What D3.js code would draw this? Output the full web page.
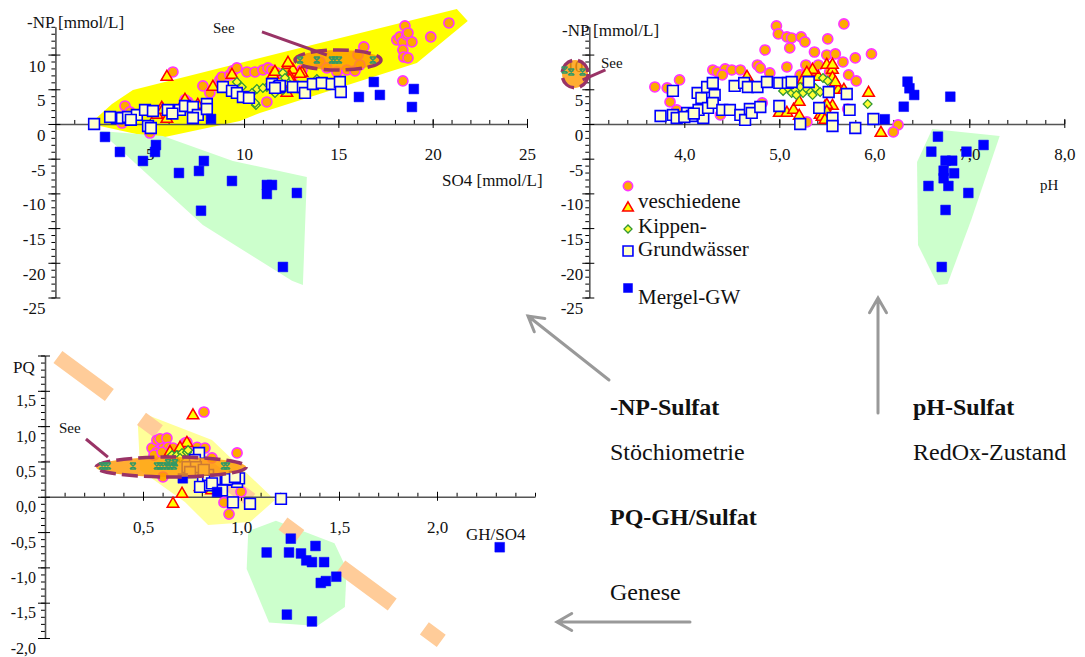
<!DOCTYPE html>
<html>
<head>
<meta charset="utf-8">
<script src="https://cdn.jsdelivr.net/npm/d3@7"></script>
<style>
  body { margin: 0; background: #fff; }
  svg { font-family: "Liberation Serif", "Times New Roman", serif; }
</style>
</head>
<body>
<script>
// ---------- chart 1: SO4 [mmol/L] vs -NP [mmol/L] ----------
let so4Circ = [[6.23,7.49],[3.69,2.59],[3.53,0.14],[5.01,-1.30],[7.02,3.17],[7.82,5.48],[8.19,4.47],[8.72,6.34],[8.83,6.77],[9.25,7.06],[9.41,7.64],[9.62,8.07],[10.15,7.49],[10.58,7.49],[11.0,7.78],[11.27,8.07],[11.48,7.78],[11.74,7.35],[12.27,7.49],[12.59,7.06],[13.07,7.78],[14.02,8.93],[11.21,3.17],[14.39,8.07],[14.92,7.49],[15.45,7.78],[15.88,7.64],[16.04,9.94],[16.35,11.10],[16.14,8.50],[18.1,12.10],[18.26,12.54],[18.42,11.82],[18.63,12.82],[18.9,11.82],[18.53,14.12],[18.69,13.11],[18.42,10.66],[18.47,9.65],[18.69,9.51],[19.90,12.54],[20.86,14.55],[18.42,6.20],[3.42,1.0],[3.95,1.73],[5.80,1.30],[6.87,3.46]]
let so4Tri = [[5.91,6.77],[8.35,5.33],[9.36,7.06],[5.64,2.31],[5.91,0.72],[6.87,3.46],[7.55,2.74],[5.38,1.30],[5.70,2.02],[6.76,2.31],[11.53,7.06],[12.33,8.50],[12.59,7.78],[13.07,7.35],[12.43,6.77],[12.27,4.47],[12.33,8.79],[11.64,7.49],[12.96,7.2],[12.43,6.34]]
let so4Dia = [[9.62,6.05],[9.88,5.33],[9.41,4.90],[10.68,5.04],[10.63,2.74],[11.21,5.33],[11.64,4.47],[10.42,4.47],[10.58,3.03],[12.06,4.90],[12.33,5.91],[13.86,6.48],[12.06,7.35],[11.0,5.19],[12.17,6.63]]
let so4Sq = [[2.05,0],[3.26,0.86],[3.53,0.86],[3.85,1.0],[4.32,1.30],[4.75,2.02],[5.17,1.87],[4.91,-0.29],[5.06,-0.58],[5.96,2.02],[6.60,2.02],[6.87,2.59],[7.29,2.45],[7.55,1.30],[7.29,0.86],[8.03,2.88],[8.03,2.16],[8.88,5.33],[9.36,4.76],[9.62,4.47],[9.94,3.89],[10.26,3.75],[11.48,5.76],[11.85,5.33],[11.9,5.48],[12.59,5.33],[13.12,5.33],[13.23,4.47],[13.65,5.76],[14.12,5.91],[14.65,5.76],[15.08,6.05],[15.13,4.61],[4.0,0.6],[2.9,1.0],[6.2,1.5],[11.64,5.19]]
let so4Mergel = [[2.63,-1.87],[3.42,-4.03],[4.64,-5.33],[5.33,-3.03],[5.28,-4.03],[6.55,-7.06],[7.61,-6.77],[7.87,-5.33],[7.72,-12.5],[9.36,-8.21],[11.21,-8.79],[11.48,-8.79],[11.21,-10.09],[12.80,-9.94],[12.06,-20.6],[8.25,0.72],[16.88,6.05],[16.09,3.89],[17.20,4.18],[19.0,5.04],[18.9,2.45]]
let so4See = [[12.97,9.2],[13.86,9.2],[14.66,9.2],[14.82,9.2],[15.03,9.2],[16.83,9.2]]
let so4YellowArea = [[1.94,0.29],[3.00,2.88],[4.11,4.90],[11.90,10.23],[21.28,16.57],[21.86,14.84],[19.16,8.79],[10.84,1.59],[9.78,0.43],[5.80,-1.87],[5.01,-1.87],[2.36,-0.29]]
let so4GreenArea = [[2.36,-1.01],[5.70,-1.73],[9.41,-5.33],[13.33,-7.64],[13.12,-23.2],[12.54,-22.6],[7.82,-14.55]]
let so4SeeEllipse = [14.98, 9.22, 2.28, 1.44]   // cx, cy, rx, ry (data units)
let so4SeeLeader = [[10.95,13.26],[14.39,9.94]]
let so4XTicks = [5,10,15,20,25]
let npYTicks = [10,5,0,-5,-10,-15,-20,-25]

// ---------- chart 2: pH vs -NP ----------
let phCirc = [[3.69,5.33],[3.82,5.19],[3.85,3.17],[3.95,6.34],[3.92,2.02],[4.30,7.78],[4.35,7.49],[4.43,7.93],[4.50,7.78],[4.59,7.78],[4.40,7.06],[4.77,8.50],[4.80,8.07],[4.82,3.03],[4.38,1.30],[4.90,7.35],[4.97,14.12],[4.99,12.97],[4.85,10.66],[5.08,12.54],[5.13,12.39],[5.11,10.95],[5.23,12.54],[5.27,11.82],[5.08,8.21],[5.22,7.06],[5.29,7.49],[5.37,10.37],[5.28,8.50],[5.41,8.50],[5.51,12.25],[5.50,9.94],[5.59,10.09],[5.68,14.41],[5.80,9.51],[5.97,10.09],[5.73,7.06],[5.81,6.20],[5.72,2.16],[5.29,0.29],[6.25,-0.14],[6.20,-1.15],[5.53,7.49],[5.67,8.93]]
let phTri = [[4.66,6.77],[5.0,1.59],[5.08,1.59],[5.15,2.02],[5.21,1.15],[5.21,3.17],[5.25,6.34],[5.35,7.49],[5.41,6.77],[5.50,8.50],[5.56,7.78],[5.56,6.63],[5.62,4.90],[5.48,2.45],[5.56,2.59],[5.43,1.30],[5.50,1.59],[5.68,4.90],[5.50,2.74],[5.50,1.73],[5.45,1.0],[5.48,0.58],[5.94,4.47],[5.35,7.78],[5.29,7.35],[6.07,-1.30],[5.59,6.0],[5.56,8.5]]
let phDia = [[5.04,4.76],[5.09,5.19],[5.13,4.47],[5.17,4.90],[5.22,5.33],[5.25,4.47],[5.29,5.04],[5.33,4.61],[5.38,5.19],[5.43,4.61],[5.46,6.63],[5.51,6.20],[5.93,2.88],[5.18,4.18],[5.35,4.18]]
let phSq = [[3.75,1.15],[3.88,4.76],[3.88,1.30],[3.92,0.86],[4.03,1.59],[4.08,1.15],[4.14,4.47],[4.18,3.75],[4.20,0.86],[4.15,2.02],[4.24,5.33],[4.30,5.91],[4.32,4.18],[4.25,2.31],[4.30,3.03],[4.40,2.02],[4.48,2.02],[4.53,5.48],[4.63,5.91],[4.59,1.30],[4.64,0.58],[4.69,2.16],[4.71,1.59],[4.67,5.33],[4.77,5.33],[4.80,2.45],[4.87,6.05],[5.0,5.91],[5.0,2.59],[5.09,5.91],[5.13,6.05],[5.22,0],[5.31,6.05],[5.42,2.31],[5.52,4.61],[5.56,0.86],[5.56,-0.29],[5.71,4.32],[5.74,2.02],[5.80,-0.58],[5.99,0.72],[4.0,1.0],[4.1,1.5]]
let phMergel = [[6.35,6.1],[6.37,5.14],[6.42,4.18],[6.31,2.49],[6.80,3.93],[6.11,0.68],[6.67,-1.83],[6.60,-3.99],[6.97,-3.99],[7.15,-3.03],[6.75,-5.29],[6.82,-5.29],[6.73,-6.73],[6.84,-7.10],[6.73,-7.82],[6.57,-8.93],[6.78,-8.93],[6.99,-9.94],[6.75,-12.39],[6.71,-20.6]]
let phSee = [[2.74,7.78],[2.81,7.49],[2.93,7.49]]
let phGreenArea = [[6.61,-0.72],[7.32,-1.73],[7.02,-13.83],[6.77,-23.05],[6.67,-23.2],[6.46,-17.44],[6.45,-5.48]]
let phSeeEllipse = [2.85, 7.2, 0.137, 2.0]
let phSeeLeader = [[3.17,7.78],[2.93,6.34]]
let phXTicks = [4,5,6,7,8]

// ---------- chart 3: GH/SO4 vs PQ ----------
let pqCirc = [[0.811,1.20],[0.546,0.69],[0.571,0.80],[0.587,0.82],[0.622,0.83],[0.602,0.69],[0.571,0.63],[0.556,0.59],[0.628,0.70],[0.653,0.69],[0.714,0.76],[0.776,0.70],[0.816,0.69],[0.852,0.55],[0.980,0.62],[0.602,0.28],[0.913,-0.08],[0.939,-0.245],[1.0,0.07],[0.597,0.63],[0.724,0.77]]
let pqTri = [[0.755,1.15],[0.724,0.76],[0.689,0.69],[0.699,0.04],[0.653,-0.10],[0.638,0.63],[0.791,0.135],[0.85,0.09]]
let pqDia = [[0.648,0.59],[0.673,0.59],[0.699,0.62],[0.724,0.63],[0.689,0.55],[0.663,0.52],[0.730,0.66]]
let pqSq = [[0.786,0.62],[0.765,0.52],[0.806,0.24],[0.857,0.24],[0.791,0.14],[0.842,0.16],[0.903,0.24],[0.944,0.24],[0.98,0.21],[0.99,0.26],[0.903,0.09],[0.959,-0.08],[1.046,-0.10],[1.204,-0.03],[0.832,0.31],[0.867,0.25],[0.929,0.25],[0.969,0.28],[0.852,0.19],[0.727,0.42],[0.77,0.42],[0.81,0.38],[0.74,0.35]]
let pqMergel = [[1.254,-0.593],[1.380,-0.697],[1.131,-0.789],[1.245,-0.789],[1.306,-0.803],[1.333,-0.901],[1.362,-0.926],[1.424,-0.926],[1.486,-1.132],[1.407,-1.220],[1.433,-1.194],[1.234,-1.669],[1.362,-1.766],[2.32,-0.715],[0.703,0.261],[0.878,0.067]]
let pqSee = [[0.291,0.435],[0.306,0.435],[0.321,0.435],[0.449,0.435],[0.571,0.435],[0.587,0.435],[0.602,0.435],[0.622,0.435],[0.638,0.435],[0.658,0.435],[0.913,0.435],[0.929,0.435],[0.628,0.48],[0.663,0.48]]
let pqYellowArea = [[0.474,1.016],[0.536,1.143],[0.852,0.803],[1.173,-0.047],[1.046,-0.358],[0.832,-0.40],[0.714,-0.075],[0.485,0.378]]
let pqGreenArea = [[1.037,-0.486],[1.178,-0.340],[1.477,-0.657],[1.539,-1.024],[1.530,-1.561],[1.389,-1.830],[1.143,-1.780],[1.029,-1.024]]
let pqBand = [[0.066,1.979],[2.026,-2.05]]
let pqSeeEllipse = [0.643, 0.421, 0.383, 0.142]
let pqSeeLeader = [[0.209,0.818],[0.321,0.562]]
let pqXTicks = [0.5,1.0,1.5,2.0]
let pqYTicks = [2.0,1.5,1.0,0.5,0,-0.5,-1.0,-1.5,-2.0]

let legendLabels = ['', 'veschiedene', 'Kippen-', 'Grundwässer', 'Mergel-GW']

let width = 1085
let height = 657

let svg = d3.select('body').append('svg')
    .attr('width', width)
    .attr('height', height)

const range = (a, b, s) => d3.range(Math.round(a / s), Math.round(b / s) + 1).map(i => +(i * s).toFixed(3))
const comma = d => (d < 0 ? '-' : '') + Math.abs(d).toFixed(1).replace('.', ',')

// scales
let x1 = d3.scaleLinear().domain([0, 25]).range([55.4, 527])
let y1 = d3.scaleLinear().domain([-25, 14]).range([297.5, 26.8])
let x2 = d3.scaleLinear().domain([3, 8]).range([589.3, 1064.3])
let y2 = y1
let x3 = d3.scaleLinear().domain([0, 2.5]).range([45, 535])
let y3 = d3.scaleLinear().domain([-2, 2]).range([638, 355.5])

const seeSymbol = {
    draw(ctx) {
        let r = 3
        ctx.moveTo(-r, -r); ctx.lineTo(r, r)
        ctx.moveTo(r, -r); ctx.lineTo(-r, r)
        ctx.moveTo(-r, -r); ctx.lineTo(r, -r)
        ctx.moveTo(-r, r); ctx.lineTo(r, r)
    }
}

const styles = {
    circ:   { type: d3.symbolCircle,   size: 80,  fill: '#ffaa00', stroke: '#ff33ff', sw: 1.6 },
    tri:    { type: d3.symbolTriangle, size: 58,  fill: '#ffff00', stroke: '#ff0000', sw: 1.5 },
    dia:    { type: d3.symbolSquare,   size: 38,  fill: '#ffff33', stroke: '#339933', sw: 1.3, rot: 45 },
    sq:     { type: d3.symbolSquare,   size: 115, fill: '#ffffcc', stroke: '#0000ff', sw: 1.6 },
    mergel: { type: d3.symbolSquare,   size: 95,  fill: '#0000ff', stroke: '#0000ff', sw: 0.5 },
    see:    { type: seeSymbol,         size: 30,  fill: 'none',    stroke: '#339966', sw: 1.5 }
}

const drawPoints = (data, x, y, kind) => {
    let st = styles[kind]
    let path = d3.symbol().type(st.type).size(st.size)()
    svg.append('g').selectAll('path')
        .data(data)
        .enter()
        .append('path')
        .attr('d', path)
        .attr('transform', d => `translate(${x(d[0])},${y(d[1])})` + (st.rot ? ` rotate(${st.rot})` : ''))
        .attr('fill', st.fill)
        .attr('stroke', st.stroke)
        .attr('stroke-width', st.sw)
}

const drawArea = (pts, x, y, fill) => {
    svg.append('path')
        .attr('d', d3.line().x(d => x(d[0])).y(d => y(d[1]))(pts) + 'Z')
        .attr('fill', fill)
}

const drawXAxis = (x, y0, minor, major, fmt) => {
    let g = svg.append('g').attr('transform', `translate(0,${y0})`)
    g.append('g')
        .call(d3.axisTop(x).tickValues(minor).tickSize(4).tickFormat('').tickSizeOuter(0))
        .call(s => s.select('.domain').remove())
    let m = g.append('g')
        .call(d3.axisBottom(x).tickValues(major).tickSize(4).tickPadding(20).tickFormat(fmt).tickSizeOuter(0))
    m.selectAll('.tick line').attr('y1', -5)
    m.select('.domain').attr('stroke', '#555').attr('stroke-width', 1.6)
    m.attr('font-family', null).attr('font-size', 17)
    m.selectAll('.tick text').attr('fill', '#111')
}

const drawYAxis = (y, x0, minor, major, fmt, gap, fs, dy) => {
    let g = svg.append('g').attr('transform', `translate(${x0},0)`)
    g.append('g')
        .call(d3.axisLeft(y).tickValues(minor).tickSize(4).tickFormat('').tickSizeOuter(0))
        .call(s => s.select('.domain').remove())
    let m = g.append('g')
        .call(d3.axisLeft(y).tickValues(major).tickSize(7).tickPadding(gap - 7).tickFormat(fmt).tickSizeOuter(0))
    m.selectAll('.tick line').attr('x1', 5)
    m.select('.domain').attr('stroke', '#555').attr('stroke-width', 1.6)
    m.attr('font-family', null).attr('font-size', fs)
    m.selectAll('.tick text').attr('y', dy).attr('fill', '#111')
}

const drawSee = (ell, x, y) => {
    svg.append('ellipse')
        .attr('cx', x(ell[0]))
        .attr('cy', y(ell[1]))
        .attr('rx', Math.abs(x(ell[0] + ell[2]) - x(ell[0])))
        .attr('ry', Math.abs(y(ell[1] + ell[3]) - y(ell[1])))
        .attr('fill', '#ff9900')
        .attr('fill-opacity', 0.8)
        .attr('stroke', '#993366')
        .attr('stroke-width', 3.5)
        .attr('stroke-dasharray', '16,6')
}

const drawLeader = (pts, x, y) => {
    svg.append('line')
        .attr('x1', x(pts[0][0])).attr('y1', y(pts[0][1]))
        .attr('x2', x(pts[1][0])).attr('y2', y(pts[1][1]))
        .attr('stroke', '#993366')
        .attr('stroke-width', 3)
}

const text = (x, y, str, size, weight) => {
    svg.append('text')
        .attr('x', x).attr('y', y)
        .attr('font-size', size)
        .attr('font-weight', weight || 'normal')
        .attr('fill', '#111')
        .text(str)
}

// ===== chart 1 =====
drawArea(so4YellowArea, x1, y1, '#ffff00')
drawArea(so4GreenArea, x1, y1, '#ccffcc')
drawXAxis(x1, y1(0), range(1, 25, 1), so4XTicks, d => d)
drawYAxis(y1, x1(0), range(-25, 14, 1), npYTicks, d => d, 10, 17, 11)
drawPoints(so4Circ, x1, y1, 'circ')
drawPoints(so4Tri, x1, y1, 'tri')
drawPoints(so4Dia, x1, y1, 'dia')
drawPoints(so4Sq, x1, y1, 'sq')
drawPoints(so4Mergel, x1, y1, 'mergel')
drawSee(so4SeeEllipse, x1, y1)
drawPoints(so4See, x1, y1, 'see')
drawLeader(so4SeeLeader, x1, y1)
text(27, 28, '-NP [mmol/L]', 17)
text(442, 186, 'SO4 [mmol/L]', 17)
text(213, 33, 'See', 15)

// ===== chart 2 =====
drawArea(phGreenArea, x2, y2, '#ccffcc')
drawXAxis(x2, y2(0), range(3.2, 8, 0.2), phXTicks, comma)
drawYAxis(y2, x2(3), range(-25, 14, 1), npYTicks, d => d, 6, 17, 11)
drawPoints(phCirc, x2, y2, 'circ')
drawPoints(phTri, x2, y2, 'tri')
drawPoints(phDia, x2, y2, 'dia')
drawPoints(phSq, x2, y2, 'sq')
drawPoints(phMergel, x2, y2, 'mergel')
drawSee(phSeeEllipse, x2, y2)
drawPoints(phSee, x2, y2, 'see')
drawLeader(phSeeLeader, x2, y2)
text(562, 36, '-NP [mmol/L]', 17)
text(1040, 190, 'pH', 15)
text(601, 68, 'See', 15)

// legend (inside chart 2)
let legend = svg.append('g')
let legKinds = ['circ', 'tri', 'dia', 'sq', 'mergel']
let legY = [186, 208, 229, 251, 288]
let legTextY = [0, 208, 233, 256, 304]
svg.append('clipPath').attr('id', 'legclip')
    .append('rect').attr('x', 600).attr('y', 150).attr('width', 200).attr('height', 106)
legKinds.forEach((k, i) => {
    let st = styles[k]
    legend.append('path')
        .attr('d', d3.symbol().type(st.type).size(st.size * 0.85)())
        .attr('transform', `translate(628,${legY[i]})` + (st.rot ? ' rotate(45)' : ''))
        .attr('fill', st.fill).attr('stroke', st.stroke).attr('stroke-width', st.sw)
    if (legendLabels[i]) {
        legend.append('text')
            .attr('x', 638).attr('y', legTextY[i])
            .attr('font-size', 21).attr('fill', '#111')
            .attr('clip-path', i === 3 ? 'url(#legclip)' : null)
            .text(legendLabels[i])
    }
})

// ===== chart 3 =====
drawArea(pqYellowArea, x3, y3, '#ffff99')
drawArea(pqGreenArea, x3, y3, '#ccffcc')
svg.append('line')
    .attr('x1', x3(pqBand[0][0])).attr('y1', y3(pqBand[0][1]))
    .attr('x2', x3(pqBand[1][0])).attr('y2', y3(pqBand[1][1]))
    .attr('stroke', '#ffcc99')
    .attr('stroke-width', 15)
    .attr('stroke-dasharray', '64,40,21,51')
drawXAxis(x3, y3(0), range(0.1, 2.5, 0.1), pqXTicks, comma)
drawYAxis(y3, x3(0), range(-2, 2, 0.1), pqYTicks, d => d === 2 ? '' : comma(d), 9, 16, 10)
drawPoints(pqCirc, x3, y3, 'circ')
drawPoints(pqTri, x3, y3, 'tri')
drawPoints(pqDia, x3, y3, 'dia')
drawPoints(pqSq, x3, y3, 'sq')
drawPoints(pqMergel, x3, y3, 'mergel')
drawSee(pqSeeEllipse, x3, y3)
drawPoints(pqSee, x3, y3, 'see')
drawLeader(pqSeeLeader, x3, y3)
text(13, 373, 'PQ', 17)
text(466, 540, 'GH/SO4', 17)
text(59, 433, 'See', 15)

// ===== captions and arrows =====
text(610, 415, '-NP-Sulfat', 24, 'bold')
text(610, 460, 'Stöchiometrie', 24)
text(913, 415, 'pH-Sulfat', 24, 'bold')
text(913, 460, 'RedOx-Zustand', 24)
text(610, 525, 'PQ-GH/Sulfat', 24, 'bold')
text(610, 600, 'Genese', 24)

const arrow = (xa, ya, xb, yb) => {
    let ang = Math.atan2(yb - ya, xb - xa)
    let L = 17, w = Math.PI / 6
    let p = d3.path()
    p.moveTo(xa, ya); p.lineTo(xb, yb)
    p.moveTo(xb - L * Math.cos(ang - w), yb - L * Math.sin(ang - w))
    p.lineTo(xb, yb)
    p.lineTo(xb - L * Math.cos(ang + w), yb - L * Math.sin(ang + w))
    svg.append('path').attr('d', p.toString())
        .attr('fill', 'none').attr('stroke', '#999').attr('stroke-width', 3)
        .attr('stroke-linecap', 'round')
}
arrow(609, 380, 528, 316)
arrow(878, 413, 878, 298)
arrow(690, 622, 557, 622)
</script>
</body>
</html>
